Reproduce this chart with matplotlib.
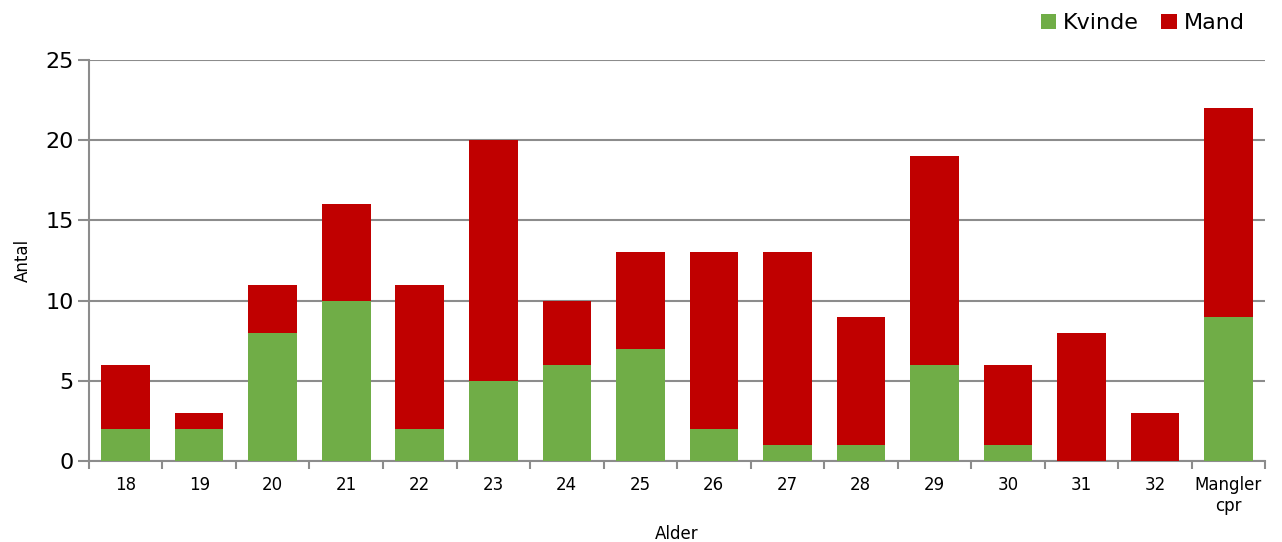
import matplotlib.pyplot as plt
import numpy as np

# data
alder = ['18', '19', '20', '21', '22', '23', '24', '25', '26', '27', '28',
         '29', '30', '31', '32', 'Mangler\ncpr']
kvinde = [2, 2, 8, 10, 2, 5, 6, 7, 2, 1, 1, 6, 1, 0, 0, 9]
mand = [4, 1, 3, 6, 9, 15, 4, 6, 11, 12, 8, 13, 5, 8, 3, 13]

green = '#70AD47'
red = '#C00000'
grey = '#8C8C8C'

fig = plt.figure(figsize=(12.82, 5.42), dpi=100)
ax = fig.add_axes([0.0694, 0.1494, 0.9174, 0.7399])

x = np.arange(len(alder))
ax.bar(x, kvinde, width=0.66, color=green, label='Kvinde', zorder=3)
ax.bar(x, mand, width=0.66, bottom=kvinde, color=red, label='Mand', zorder=3)

ax.set_xlim(-0.5, len(alder) - 0.5)
ax.set_ylim(0, 25)
ax.set_yticks(range(0, 26, 5))
ax.yaxis.grid(True, color=grey, linewidth=1.5, zorder=0)
ax.set_axisbelow(True)

# category ticks sit between bars, labels centred on bars
ax.set_xticks(np.arange(-0.5, len(alder)), minor=False)
ax.set_xticklabels([])
ax.set_xticks(x, minor=True)
ax.set_xticklabels(alder, minor=True, fontsize=12)
ax.tick_params(axis='x', which='minor', length=0, pad=11)
ax.tick_params(axis='x', which='major', length=6, width=1.5, color=grey)
ax.tick_params(axis='y', length=8, width=1.5, color=grey, labelsize=16, pad=3)

for s in ['top', 'right']:
    ax.spines[s].set_visible(False)
for s in ['left', 'bottom']:
    ax.spines[s].set_color(grey)
    ax.spines[s].set_linewidth(1.5)

ax.set_xlabel('Alder', fontsize=12)
ax.xaxis.set_label_coords(0.5, -0.16)
ax.set_ylabel('Antal', fontsize=12, labelpad=10)

ax.legend(loc='lower right', bbox_to_anchor=(0.99, 1.045), ncol=2, frameon=False,
          fontsize=16, handlelength=0.7, handleheight=0.7, handletextpad=0.3,
          columnspacing=1.0, borderaxespad=0)

fig.savefig('out.png', dpi=100)
